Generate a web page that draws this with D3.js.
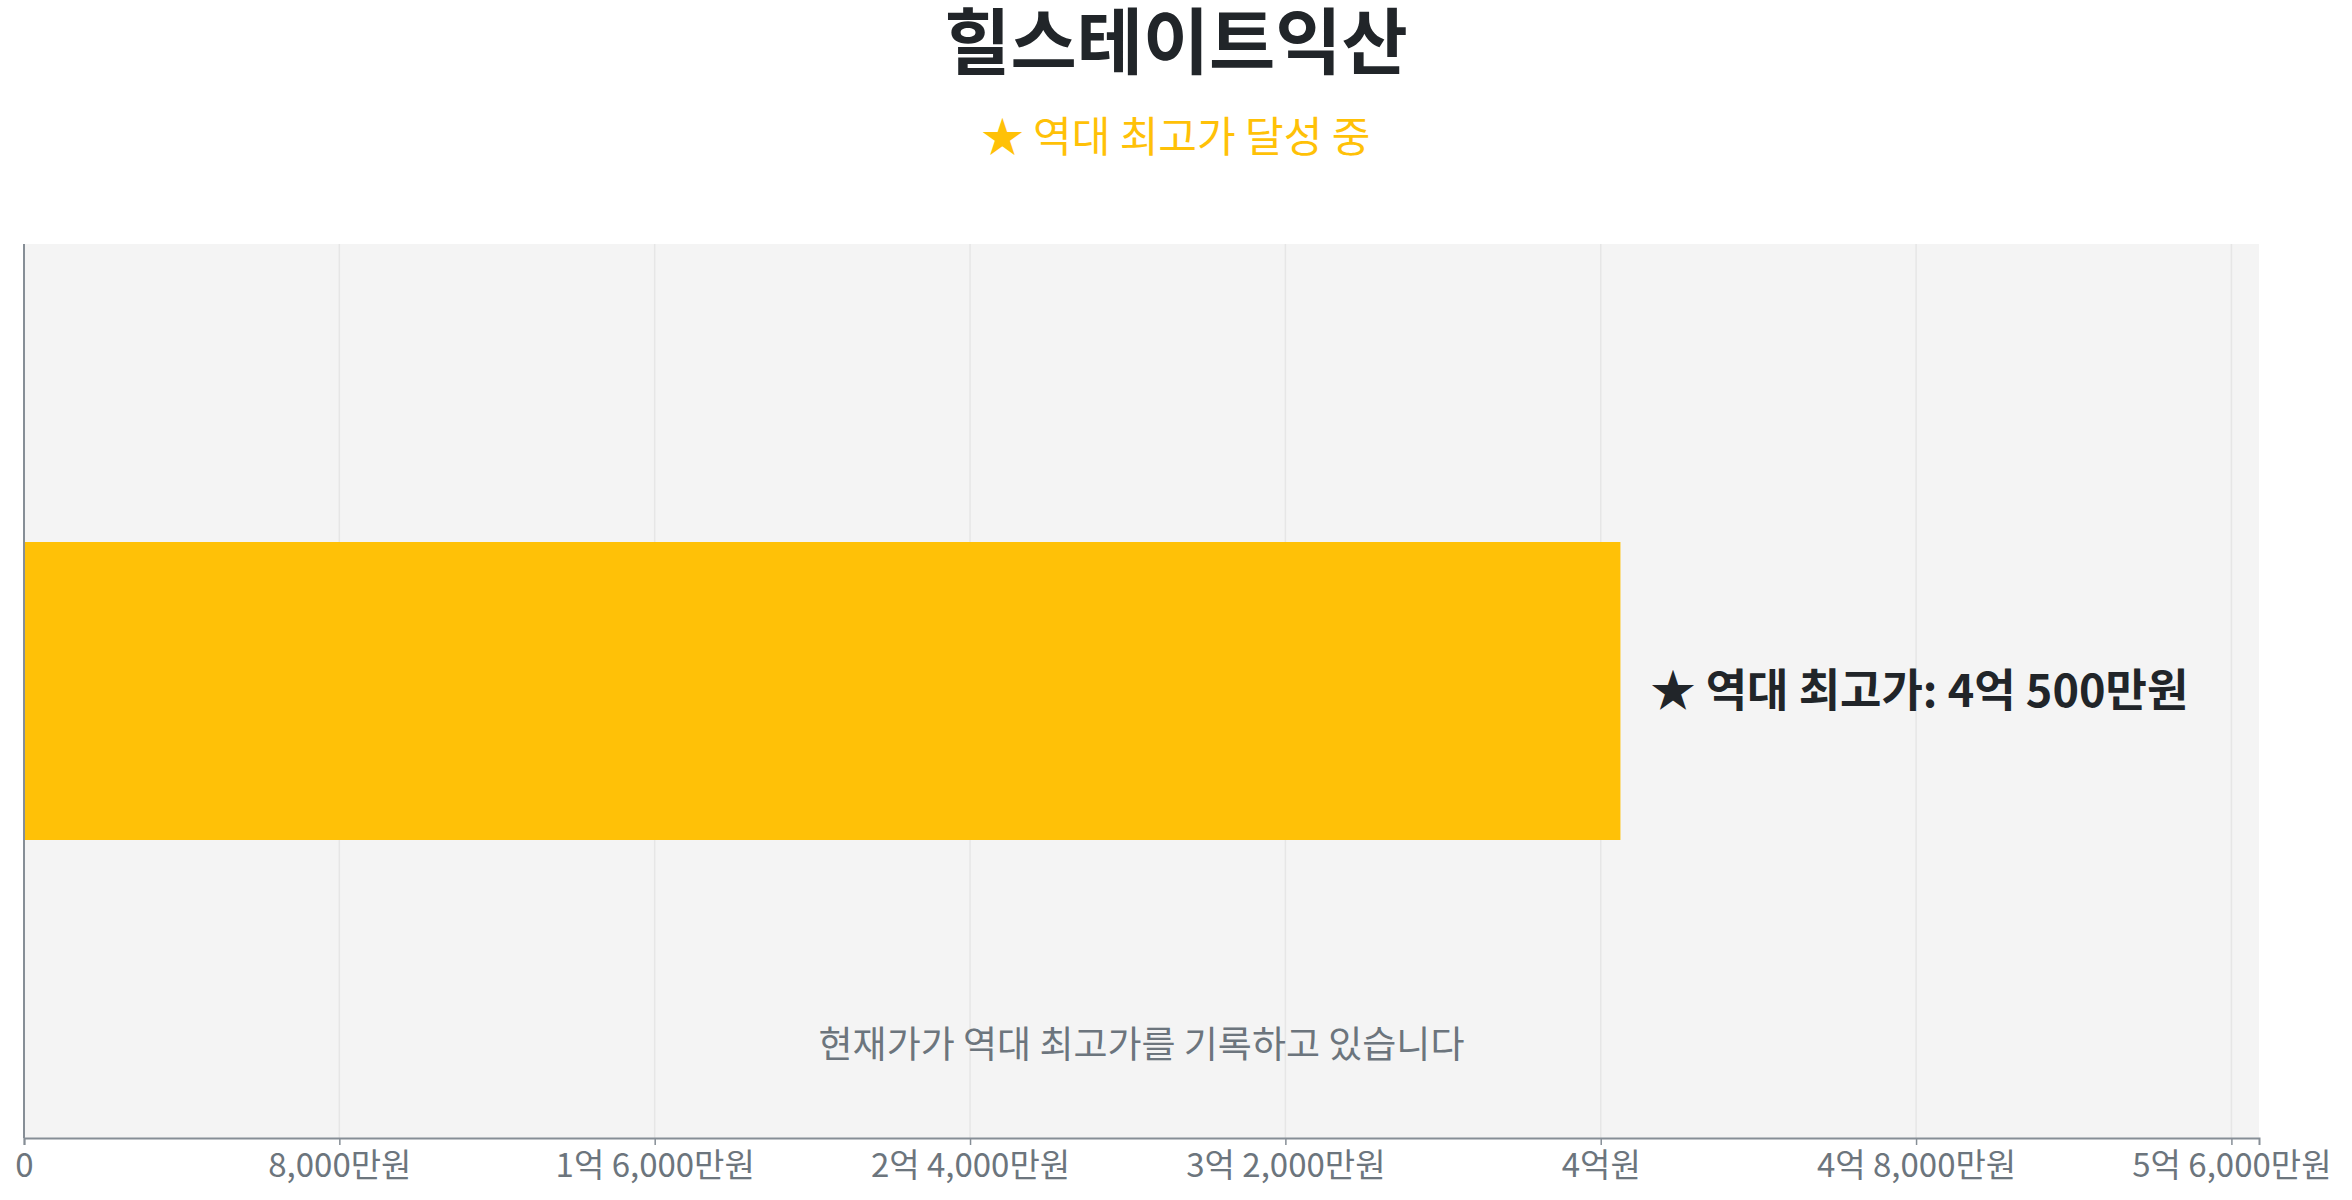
<!DOCTYPE html>
<html>
<head>
<meta charset="utf-8">
<script src="https://cdn.jsdelivr.net/npm/d3@7"></script>
<style>
  body { margin: 0; background: #fff; }
  text { font-family: "Noto Sans CJK KR", "Noto Sans", sans-serif; }
</style>
</head>
<body>
<div id="chart"></div>
<script>
// values in 만원
var complexName = "힐스테이트익산";
var categories = ["역대 최고가"];
var values = [40500];
var tickValues = [0, 8000, 16000, 24000, 32000, 40000, 48000, 56000];
var domainMax = 56700;
var subtitle = "★ 역대 최고가 달성 중";
var note = "현재가가 역대 최고가를 기록하고 있습니다";

function won(v) {
  if (v === 0) return "0";
  var eok = Math.floor(v / 10000), man = v % 10000;
  var manStr = d3.format(",")(man);
  if (eok > 0 && man > 0) return eok + "억 " + manStr + "만원";
  if (eok > 0) return eok + "억원";
  return manStr + "만원";
}

var width = 2352, height = 1200;
var margin = {top: 244, right: 93, bottom: 62, left: 24};

var svg = d3.select("#chart").append("svg")
  .attr("width", width)
  .attr("height", height);

var x = d3.scaleLinear()
  .domain([0, domainMax])
  .range([margin.left, width - margin.right]);

var y = d3.scaleBand()
  .domain(categories)
  .range([margin.top, height - margin.bottom])
  .padding(0.5);

// plot background
svg.append("rect")
  .attr("x", margin.left)
  .attr("y", margin.top)
  .attr("width", width - margin.right - margin.left)
  .attr("height", height - margin.bottom - margin.top)
  .attr("fill", "#f4f4f4");

// grid
svg.append("g")
  .selectAll("line")
  .data(tickValues.slice(1))
  .enter().append("line")
  .attr("x1", function (d) { return x(d); })
  .attr("x2", function (d) { return x(d); })
  .attr("y1", margin.top)
  .attr("y2", height - margin.bottom)
  .attr("stroke", "#e6e6e6")
  .attr("stroke-width", 1.5);

// bars
svg.append("g")
  .selectAll("rect")
  .data(values)
  .enter().append("rect")
  .attr("x", x(0))
  .attr("y", function (d, i) { return y(categories[i]); })
  .attr("width", function (d) { return x(d) - x(0); })
  .attr("height", y.bandwidth())
  .attr("fill", "#FFC107");

// x axis
var xAxis = svg.append("g")
  .attr("transform", "translate(0," + (height - margin.bottom) + ")")
  .call(d3.axisBottom(x).tickValues(tickValues).tickFormat(won).tickSize(7).tickPadding(9));
xAxis.select(".domain").attr("stroke", "#868e96").attr("stroke-width", 2);
xAxis.selectAll(".tick line").attr("stroke", "#868e96").attr("stroke-width", 1.5);
xAxis.selectAll(".tick text")
  .attr("fill", "#6c757d")
  .style("font-size", "33px")
  .style("font-family", "'Noto Sans CJK KR', sans-serif");

// left axis line
svg.append("line")
  .attr("x1", margin.left).attr("x2", margin.left)
  .attr("y1", margin.top).attr("y2", height - margin.bottom)
  .attr("stroke", "#868e96")
  .attr("stroke-width", 2);

// bar labels
svg.append("g")
  .selectAll("text")
  .data(values)
  .enter().append("text")
  .attr("x", function (d) { return x(d) + 30; })
  .attr("y", function (d, i) { return y(categories[i]) + y.bandwidth() / 2; })
  .attr("dy", "0.36em")
  .attr("fill", "#212529")
  .style("font-size", "45px")
  .style("font-weight", "bold")
  .text(function (d) { return "★ 역대 최고가: " + won(d); });

// note
svg.append("text")
  .attr("x", (margin.left + width - margin.right) / 2)
  .attr("y", 1058)
  .attr("text-anchor", "middle")
  .attr("fill", "#6c757d")
  .style("font-size", "37px")
  .text(note);

// titles
svg.append("text")
  .attr("x", width / 2)
  .attr("y", 68)
  .attr("text-anchor", "middle")
  .attr("fill", "#212529")
  .style("font-size", "72px")
  .style("font-weight", "bold")
  .text(complexName);

svg.append("text")
  .attr("x", width / 2)
  .attr("y", 152)
  .attr("text-anchor", "middle")
  .attr("fill", "#FFC107")
  .style("font-size", "42px")
  .text(subtitle);
</script>
</body>
</html>
